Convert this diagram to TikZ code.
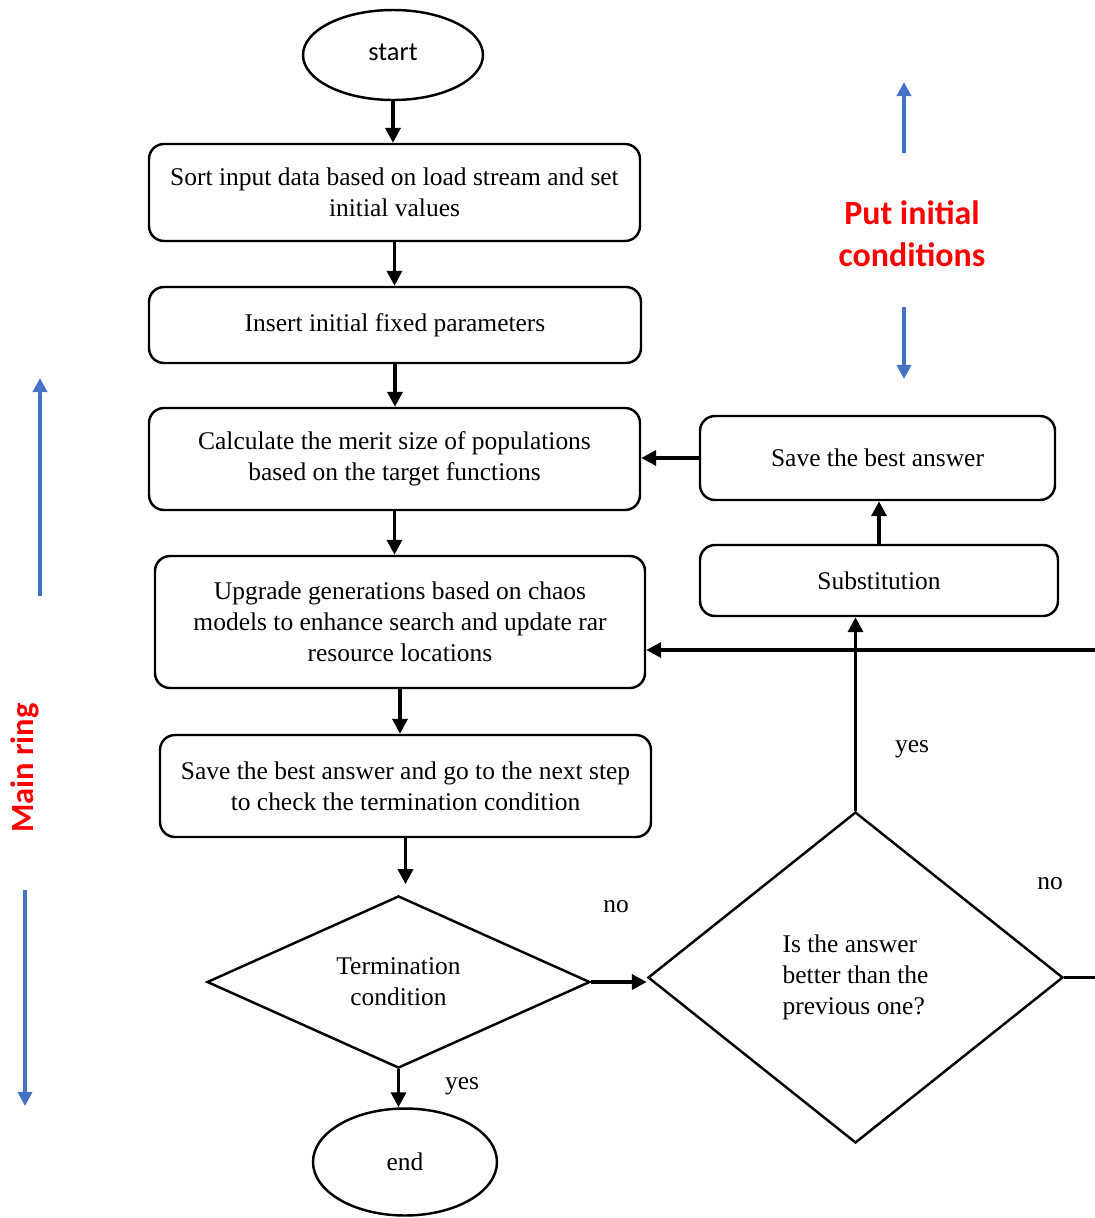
\documentclass[tikz,border=0pt]{standalone}
\usepackage{fontspec}
\setmainfont{Liberation Serif}
\newfontfamily\calibri{Carlito}
\usetikzlibrary{shapes.geometric,arrows.meta}

\newlength{\du}
\setlength{\du}{0.02cm}

\definecolor{hintblue}{RGB}{68,114,196}
\definecolor{notered}{RGB}{255,0,0}

\tikzset{
  procbox/.style={draw, line width=1.4pt, rounded corners=0.3cm, align=center,
    inner sep=0pt, font=\fontsize{14.5}{17.6}\selectfont},
  termbox/.style={draw, ellipse, line width=1.4pt, inner sep=0pt},
  decbox/.style={draw, diamond, line width=1.4pt, inner sep=0pt,
    font=\fontsize{14.5}{17.6}\selectfont},
  flow/.style={line width=2pt, -{Triangle[length=8.5pt,width=8.5pt]}},
  hint/.style={hintblue, line width=2pt, -{Triangle[length=8pt,width=8pt]}},
  answer/.style={font=\fontsize{14.5}{17.6}\selectfont},
  notetext/.style={notered, align=center, font=\calibri\bfseries\fontsize{19.3}{24}\selectfont},
}

\begin{document}
\begin{tikzpicture}[x=\du, y=-\du]
\useasboundingbox (0,0) rectangle (1095,1218);

% main column
\node[termbox, minimum width=180\du, minimum height=90\du,
  font=\calibri\fontsize{15}{18}\selectfont] (start) at (393,55) {\raisebox{3pt}{start}};
\node[procbox, minimum width=491\du, minimum height=97\du] (sort) at (394.5,192.5)
  {Sort input data based on load stream and set\\initial values};
\node[procbox, minimum width=492\du, minimum height=76\du] (insert) at (395,325)
  {Insert initial fixed parameters};
\node[procbox, minimum width=491\du, minimum height=102\du] (calc) at (394.5,459)
  {Calculate the merit size of populations\\based on the target functions};
\node[procbox, minimum width=490\du, minimum height=132\du] (upgrade) at (400,622)
  {Upgrade generations based on chaos\\models to enhance search and update rar\\resource locations};
\node[procbox, minimum width=491\du, minimum height=102\du] (savenext) at (405.5,786)
  {Save the best answer and go to the next step\\to check the termination condition};
\node[decbox, minimum width=383\du, minimum height=168\du, align=center] (term) at (398.5,982)
  {Termination\\condition};
\node[termbox, minimum width=184\du, minimum height=107\du,
  font=\fontsize{14.5}{17.6}\selectfont] (end) at (405,1162) {end};

% side column
\node[procbox, minimum width=355\du, minimum height=84\du] (savebest) at (877.5,458)
  {Save the best answer};
\node[procbox, minimum width=358\du, minimum height=71\du] (subst) at (879,580.5)
  {Substitution};
\node[decbox, minimum width=415\du, minimum height=331\du, align=left] (better) at (855.5,977.5)
  {Is the answer\\better than the\\previous one?};

% connectors
\draw[flow] (start.south) -- (start.south |- sort.north);
\draw[flow] (sort.south) -- (sort.south |- insert.north);
\draw[flow] (insert.south) -- (insert.south |- calc.north);
\draw[flow] (calc.south) -- (calc.south |- upgrade.north);
\draw[flow] (upgrade.south) -- (upgrade.south |- savenext.north);
\draw[flow] (savenext.south) -- ([yshift=6pt]savenext.south |- term.north);
\draw[flow] (term.south) -- (term.south |- end.north);
\draw[flow] (term.east) -- (term.east -| better.west);
\draw[flow] (better.north) -- (better.north |- subst.south);
\draw[flow] (subst.north) -- (subst.north |- savebest.south);
\draw[flow] (savebest.west) -- (savebest.west -| calc.east);
\coordinate (loopR) at (1120,650);
\draw[flow] (better.east) -| (loopR) -- (upgrade.east |- loopR);

\node[answer] (yesend) at (462,1086) {yes};
\node[answer] (noterm) at (616,907) {no};
\node[answer] (yesbetter) at (912,749) {yes};
\node[answer] (nobetter) at (1050,884) {no};

% notes
\node[notetext] (putinit) at (912,234) {Put initial\\conditions};
\draw[hint] (904,153) -- (904,82);
\draw[hint] (904,307) -- (904,379);
\node[notetext, rotate=90, font=\calibri\bfseries\fontsize{18.5}{22}\selectfont] (mainring) at (25,768) {Main ring};
\draw[hint] (40,596) -- (40,378);
\draw[hint] (25,890) -- (25,1106);
\end{tikzpicture}
\end{document}
